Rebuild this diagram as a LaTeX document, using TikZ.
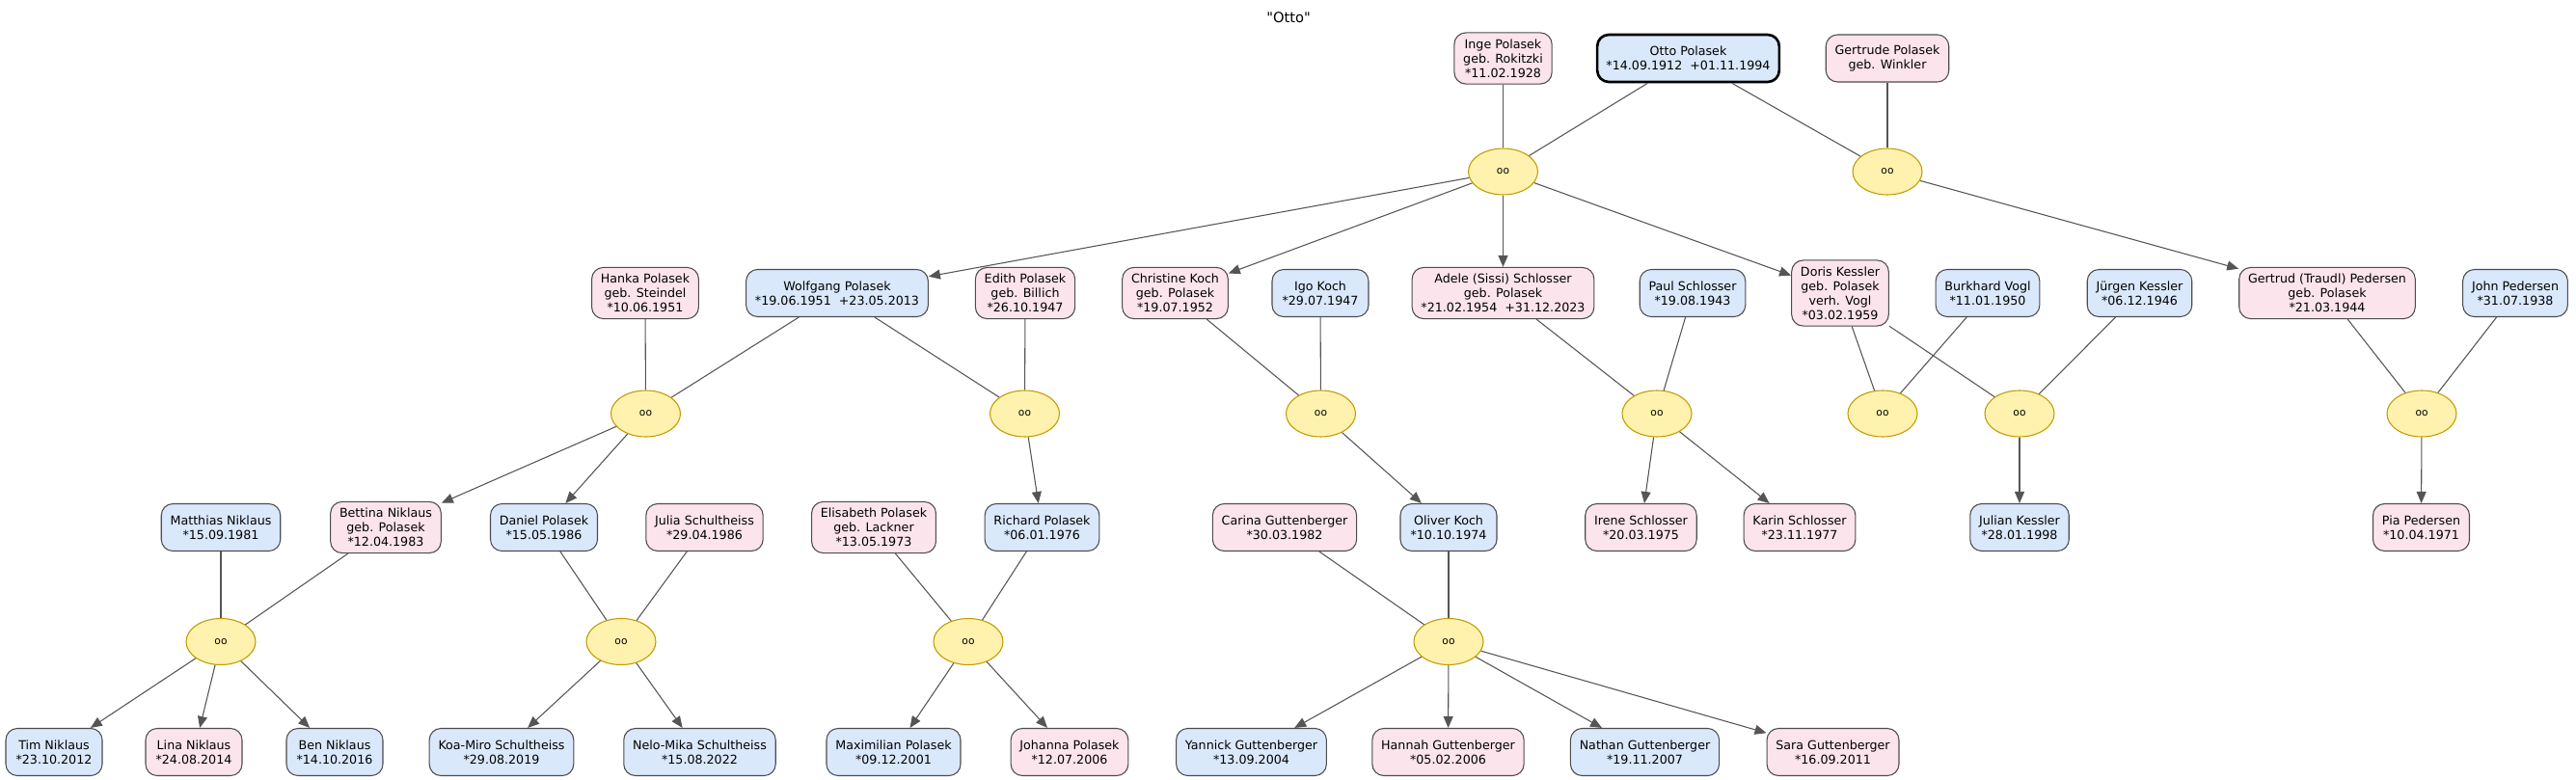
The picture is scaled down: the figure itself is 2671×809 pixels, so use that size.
\documentclass[tikz,border=0pt]{standalone}
\usepackage{fontspec}
\setmainfont{DejaVu Sans}
\newfontfamily\titlefont{DejaVu Sans}
\usepackage{tikz}
\usetikzlibrary{arrows.meta}
\usetikzlibrary{shapes.geometric}

\definecolor{manfill}{HTML}{DAE8FC}
\definecolor{womanfill}{HTML}{FCE4EC}
\definecolor{ringfill}{HTML}{FFF2AE}
\definecolor{ringdraw}{HTML}{C49A00}
\definecolor{linegray}{HTML}{555555}

\tikzset{
	person/.style={draw=black!70, line width=0.8pt, rounded corners=9pt, align=center,
		font=\fontsize{9.5}{11.25}\selectfont, inner xsep=7pt, inner ysep=5pt,
		minimum width=75pt, minimum height=36.75pt},
	man/.style={person, fill=manfill},
	woman/.style={person, fill=womanfill},
	ring/.style={ellipse, draw=ringdraw, line width=0.8pt, fill=ringfill, inner sep=0pt,
		minimum width=54pt, minimum height=36pt, font=\fontsize{8}{9}\selectfont}
}

\begin{document}
\begin{tikzpicture}[x=0.75pt, y=-0.75pt]
	\useasboundingbox (0,0) rectangle (2671,809);
	\node[font=\titlefont\fontsize{11}{13}\selectfont] (title) at (1336,18) {"Otto"};

	\begin{scope}[every node/.style={man}]
		\node[draw=black, line width=2pt] (otto) at (1750.5,60.5) {Otto Polasek\\*14.09.1912~~+01.11.1994};
		\node (wolfgang) at (868,304) {Wolfgang Polasek\\*19.06.1951~~+23.05.2013};
		\node (igo) at (1369,304) {Igo Koch\\*29.07.1947};
		\node (paul) at (1755,304) {Paul Schlosser\\*19.08.1943};
		\node (burkhard) at (2061,304) {Burkhard Vogl\\*11.01.1950};
		\node (juergen) at (2218.5,304) {Jürgen Kessler\\*06.12.1946};
		\node (john) at (2608,304) {John Pedersen\\*31.07.1938};
		\node (matthias) at (229,547) {Matthias Niklaus\\*15.09.1981};
		\node (daniel) at (564,547) {Daniel Polasek\\*15.05.1986};
		\node (richard) at (1080.5,547) {Richard Polasek\\*06.01.1976};
		\node (oliver) at (1502,547) {Oliver Koch\\*10.10.1974};
		\node (julian) at (2094,547) {Julian Kessler\\*28.01.1998};
		\node (tim) at (56,780) {Tim Niklaus\\*23.10.2012};
		\node (ben) at (347,780) {Ben Niklaus\\*14.10.2016};
		\node (koa) at (520,780) {Koa-Miro Schultheiss\\*29.08.2019};
		\node (nelo) at (725.5,780) {Nelo-Mika Schultheiss\\*15.08.2022};
		\node (maximilian) at (926.5,780) {Maximilian Polasek\\*09.12.2001};
		\node (yannick) at (1297.5,780) {Yannick Guttenberger\\*13.09.2004};
		\node (nathan) at (1705.5,780) {Nathan Guttenberger\\*19.11.2007};
	\end{scope}

	\begin{scope}[every node/.style={woman}]
		\node (inge) at (1558.5,60.5) {Inge Polasek\\geb. Rokitzki\\*11.02.1928};
		\node (gertrude) at (1957,60.5) {Gertrude Polasek\\geb. Winkler};
		\node (hanka) at (669,304) {Hanka Polasek\\geb. Steindel\\*10.06.1951};
		\node (edith) at (1063,304) {Edith Polasek\\geb. Billich\\*26.10.1947};
		\node (christine) at (1218.5,304) {Christine Koch\\geb. Polasek\\*19.07.1952};
		\node (adele) at (1558.5,304) {Adele (Sissi) Schlosser\\geb. Polasek\\*21.02.1954~~+31.12.2023};
		\node (doris) at (1908,304) {Doris Kessler\\geb. Polasek\\verh. Vogl\\*03.02.1959};
		\node (gertrud) at (2413,304) {Gertrud (Traudl) Pedersen\\geb. Polasek\\*21.03.1944};
		\node (bettina) at (400,547) {Bettina Niklaus\\geb. Polasek\\*12.04.1983};
		\node (julia) at (730.5,547) {Julia Schultheiss\\*29.04.1986};
		\node (elisabeth) at (906,547) {Elisabeth Polasek\\geb. Lackner\\*13.05.1973};
		\node (carina) at (1332,547) {Carina Guttenberger\\*30.03.1982};
		\node (irene) at (1701.5,547) {Irene Schlosser\\*20.03.1975};
		\node (karin) at (1866,547) {Karin Schlosser\\*23.11.1977};
		\node (pia) at (2510.5,547) {Pia Pedersen\\*10.04.1971};
		\node (lina) at (201,780) {Lina Niklaus\\*24.08.2014};
		\node (johanna) at (1109,780) {Johanna Polasek\\*12.07.2006};
		\node (hannah) at (1501.5,780) {Hannah Guttenberger\\*05.02.2006};
		\node (sara) at (1900.5,780) {Sara Guttenberger\\*16.09.2011};
	\end{scope}

	\begin{scope}[every node/.style={ring}]
		\node (m1) at (1558.5,178) {oo};
		\node (m2) at (1957,178) {oo};
		\node (m3) at (669.5,429) {oo};
		\node (m4) at (1062.5,429) {oo};
		\node (m5) at (1369.5,429) {oo};
		\node (m6) at (1718,429) {oo};
		\node (m7) at (1952,429) {oo};
		\node (m8) at (2094,429) {oo};
		\node (m9) at (2511,429) {oo};
		\node (m10) at (229,665.5) {oo};
		\node (m11) at (644,665.5) {oo};
		\node (m12) at (1004,665.5) {oo};
		\node (m13) at (1502,665.5) {oo};
	\end{scope}

	\begin{scope}[>={Triangle[length=9pt, width=7.5pt]},
	              every edge/.style={draw=linegray, line width=0.8pt}]
		\path (inge) edge (m1);
		\path (otto) edge (m1);
		\path (otto) edge (m2);
		\path (gertrude) edge (m2);
		\path (m1) edge[->] (wolfgang);
		\path (m1) edge[->] (christine);
		\path (m1) edge[->] (adele);
		\path (m1) edge[->] (doris);
		\path (m2) edge[->] (gertrud);
		\path (hanka) edge (m3);
		\path (wolfgang) edge (m3);
		\path (wolfgang) edge (m4);
		\path (edith) edge (m4);
		\path (christine) edge (m5);
		\path (igo) edge (m5);
		\path (adele) edge (m6);
		\path (paul) edge (m6);
		\path (doris) edge (m7);
		\path (burkhard) edge (m7);
		\path (doris) edge (m8);
		\path (juergen) edge (m8);
		\path (gertrud) edge (m9);
		\path (john) edge (m9);
		\path (m3) edge[->] (bettina);
		\path (m3) edge[->] (daniel);
		\path (m4) edge[->] (richard);
		\path (m5) edge[->] (oliver);
		\path (m6) edge[->] (irene);
		\path (m6) edge[->] (karin);
		\path (m8) edge[->] (julian);
		\path (m9) edge[->] (pia);
		\path (matthias) edge (m10);
		\path (bettina) edge (m10);
		\path (daniel) edge (m11);
		\path (julia) edge (m11);
		\path (elisabeth) edge (m12);
		\path (richard) edge (m12);
		\path (carina) edge (m13);
		\path (oliver) edge (m13);
		\path (m10) edge[->] (tim);
		\path (m10) edge[->] (lina);
		\path (m10) edge[->] (ben);
		\path (m11) edge[->] (koa);
		\path (m11) edge[->] (nelo);
		\path (m12) edge[->] (maximilian);
		\path (m12) edge[->] (johanna);
		\path (m13) edge[->] (yannick);
		\path (m13) edge[->] (hannah);
		\path (m13) edge[->] (nathan);
		\path (m13) edge[->] (sara);
	\end{scope}
\end{tikzpicture}
\end{document}
